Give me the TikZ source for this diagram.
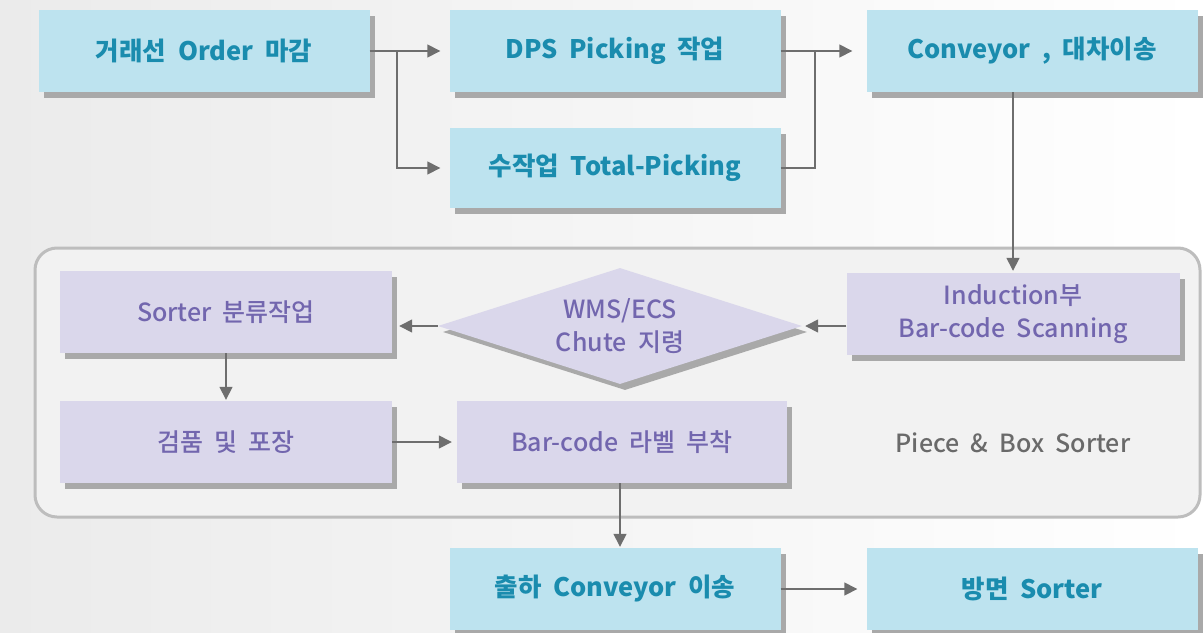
\documentclass[tikz,border=0pt]{standalone}
\usepackage{fontspec}
\setmainfont{Noto Sans CJK KR}[WordSpace=2.0]
\newfontfamily\medfont{Noto Sans CJK KR Medium}[WordSpace=2.0]
\usetikzlibrary{shapes.geometric,arrows.meta,shadows}
\definecolor{bluefill}{HTML}{BDE3EF}
\definecolor{bluetext}{HTML}{1A8CAE}
\definecolor{purfill}{HTML}{DAD7EB}
\definecolor{purtext}{HTML}{7266AE}
\definecolor{shadowc}{HTML}{A9A9A9}
\definecolor{arrowc}{HTML}{6E6E6E}
\definecolor{panelfill}{HTML}{F2F2F2}
\definecolor{panelline}{HTML}{BDBDBD}
\definecolor{bgleft}{HTML}{EBEBEB}
\definecolor{graytext}{HTML}{6A6A6A}
\tikzset{
  boxshadow/.style={general shadow={fill=shadowc, shadow xshift=5pt, shadow yshift=-6pt}},
  bbox/.style={rectangle, fill=bluefill, boxshadow, minimum width=331pt, minimum height=82pt,
    inner sep=0pt, text=bluetext, font=\bfseries\fontsize{25.5}{30}\selectfont},
  ptext/.style={text=purtext, align=center, font=\medfont\fontsize{25}{33}\selectfont},
  pbox/.style={rectangle, fill=purfill, boxshadow, minimum width=332pt, minimum height=82pt,
    inner sep=0pt, ptext},
  flow/.style={draw=arrowc, line width=1.5pt, -{Triangle[length=13pt,width=13pt]}},
  plain/.style={draw=arrowc, line width=1.5pt},
}
\begin{document}
\begin{tikzpicture}[x=1pt,y=-1pt]
\useasboundingbox (0,0) rectangle (1204,632);
\fill[left color=bgleft, right color=white] (0,0) rectangle (1204,632);
% panel
\draw[panelline, line width=3pt, fill=panelfill, rounded corners=22pt] (35,248) rectangle (1200,517);
% top row
\node[bbox] (o1) at (204,51) {거래선 Order 마감};
\node[bbox] (dps) at (615,51) {DPS Picking 작업};
\node[bbox, minimum height=80pt] (man) at (615,168) {수작업 Total-Picking};
\node[bbox] (conv) at (1032,51) {Conveyor , 대차이송};
% panel contents
\node[pbox, minimum width=333pt] (ind) at (1013,314) {Induction부\\Bar-code Scanning};
\node[diamond, shape aspect=3.14, fill=purfill, boxshadow, minimum width=364pt, minimum height=116pt,
  inner sep=0pt] (dia) at (620,326) {};
\node[ptext] (diat) at (dia.center) {WMS/ECS\\Chute 지령};
\node[pbox] (sort) at (226,312) {Sorter 분류작업};
\node[pbox] (insp) at (226,442) {검품 및 포장};
\node[pbox, minimum width=330pt] (bar) at (622,442) {Bar-code 라벨 부착};
\node[text=graytext, font=\medfont\fontsize{25}{30}\selectfont] (lbl) at (1013,443) {Piece \& Box Sorter};
% bottom row
\node[bbox] (ship) at (615,589) {출하 Conveyor 이송};
\node[bbox] (dest) at (1032,589) {방면 Sorter};
% connectors
\coordinate (j1) at (397,51);
\coordinate (j2) at (815,51);
\draw[plain] (o1.east) -- (j1);
\draw[flow, shorten >=9pt] (j1) -- (dps.west);
\draw[flow, shorten >=9pt] (j1) |- (man.west);
\draw[plain] (dps.east) -- (j2);
\draw[plain] (man.east) -| (j2);
\draw[flow, shorten >=14pt] (j2) -- (conv.west);
\draw[flow, shorten >=2pt] (ind.north |- conv.south) -- (ind.north);
\draw[flow, shorten >=3pt] (ind.west |- dia.east) -- (dia.east);
\draw[flow, shorten >=7pt] (dia.west) -- (sort.east |- dia.west);
\draw[flow, shorten >=1pt] (sort.south) -- (insp.north);
\draw[flow, shorten >=5pt] (insp.east) -- (bar.west);
\draw[flow, shorten >=1pt] (bar.south -| 620,0) -- (ship.north -| 620,0);
\draw[flow, shorten >=9pt] (ship.east) -- (dest.west);
\end{tikzpicture}
\end{document}
